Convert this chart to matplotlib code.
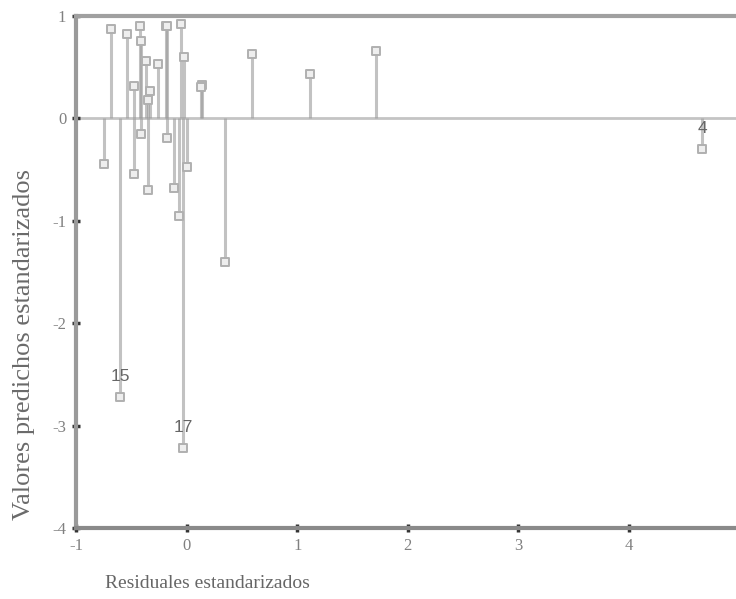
import numpy as np
import matplotlib
matplotlib.use("Agg")
import matplotlib.pyplot as plt

plt.rcParams['font.family'] = ['Liberation Serif', 'DejaVu Serif']

# standardized residuals (x) and standardized predicted values (y)
residuales = [-0.68, -0.54, -0.42, -0.41, -0.37, -0.26, -0.19, -0.175, -0.05, -0.02,
              0.14, 0.13, -0.48, -0.33, -0.35, 0.59, 1.12, 1.71,
              -0.75, -0.48, -0.41, -0.35, -0.18, -0.11, -0.07, 0.00, 0.35,
              -0.60, -0.03, 4.66]
predichos = [0.87, 0.82, 0.90, 0.76, 0.56, 0.53, 0.90, 0.90, 0.92, 0.60,
             0.33, 0.31, 0.32, 0.27, 0.18, 0.63, 0.43, 0.66,
             -0.45, -0.54, -0.15, -0.70, -0.19, -0.68, -0.95, -0.47, -1.40,
             -2.72, -3.22, -0.30]
# labelled cases
casos = ["15", "17", "4"]
casos_x = [-0.60, -0.03, 4.66]
casos_y = [-2.72, -3.22, -0.30]

x_ticks = [-1, 0, 1, 2, 3, 4]
y_ticks = [-4, -3, -2, -1, 0, 1]

fig = plt.figure(figsize=(7.36, 5.99), dpi=100)
ax = fig.add_axes([76 / 736, 1 - 528 / 599, 1 - 76 / 736, (528 - 16) / 599])

ax.axhline(0, color="#c4c4c4", lw=2, zorder=1)
ax.vlines(residuales, 0, predichos, colors="#9a9a9a", lw=2.2, alpha=0.6, zorder=2)
ax.scatter(residuales, predichos, marker="s", s=26, facecolor="#eeeeee",
           edgecolor="#b0b0b0", linewidths=1.4, zorder=3)

for lab, cx, cy in zip(casos, casos_x, casos_y):
    ax.text(cx, cy + 0.2, lab, ha="center", va="center", fontsize=12.5,
            color="#666666", family="Liberation Sans", zorder=4)

ax.set_xlim(-1, 4.968)
ax.set_ylim(-4, 1)
ax.set_xticks(x_ticks)
ax.set_yticks(y_ticks)
ax.set_xticklabels([str(t) for t in x_ticks])
ax.set_yticklabels([str(t) for t in y_ticks])
ax.tick_params(direction="inout", length=6, width=2.5, color="#333333",
               labelcolor="#808080", labelsize=12, pad=4)

for side in ["left", "bottom", "top"]:
    ax.spines[side].set_linewidth(3)
ax.spines["left"].set_color("#9a9a9a")
ax.spines["bottom"].set_color("#8a8a8a")
ax.spines["top"].set_color("#a0a0a0")
ax.spines["right"].set_visible(False)

fig.text(105 / 736, 1 - 583 / 599, "Residuales estandarizados", ha="left",
         va="center", fontsize=14, color="#666666")
fig.text(24 / 736, 1 - 345 / 599, "Valores predichos estandarizados", ha="center",
         va="center", rotation=90, fontsize=19, color="#6a6a6a")

fig.savefig("out.png", dpi=100)
